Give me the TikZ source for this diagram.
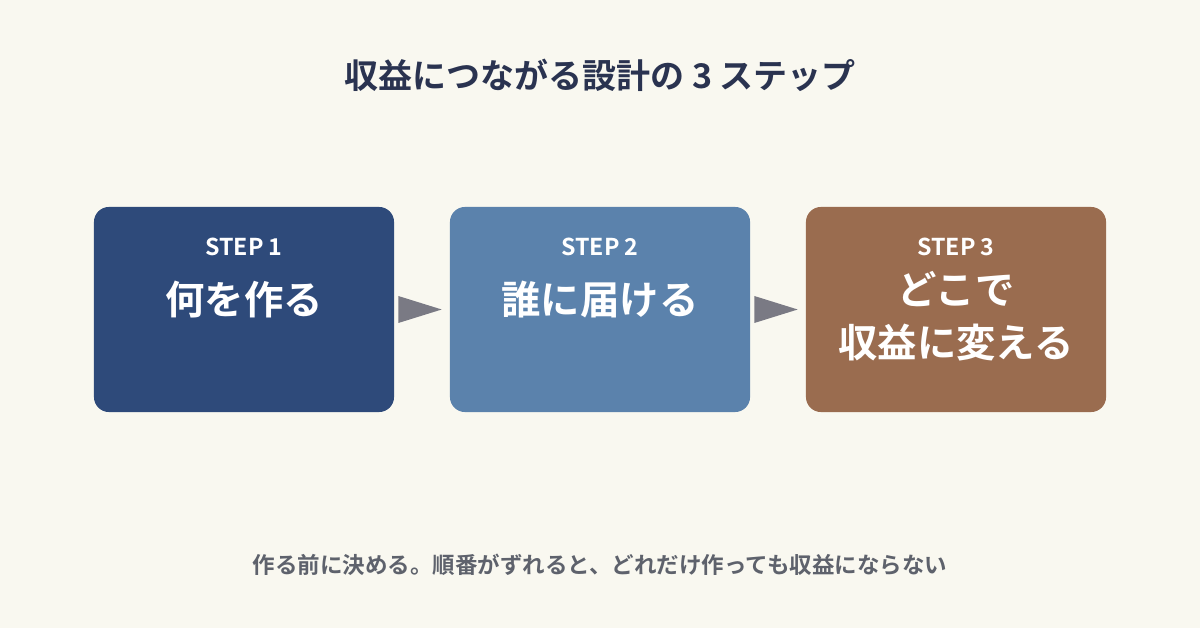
\documentclass[tikz,border=0pt]{standalone}
\usepackage{fontspec}
\setmainfont{Noto Sans CJK JP}[BoldFont={Noto Sans CJK JP Bold}]
\usetikzlibrary{positioning}
\definecolor{bgcream}{HTML}{F9F8F0}
\definecolor{titleink}{HTML}{2A3350}
\definecolor{footink}{HTML}{5E626C}
\definecolor{arrowgray}{HTML}{7A7A84}
\definecolor{stepnavy}{HTML}{2E4A7A}
\definecolor{stepblue}{HTML}{5B82AC}
\definecolor{stepbrown}{HTML}{9A6C4F}
\tikzset{
	stepbox/.style={rounded corners=0.375cm, minimum width=7.5cm, minimum height=5.125cm, inner sep=0pt},
	steplabel/.style={text=white, font=\bfseries\fontsize{16.5}{19}\selectfont},
	steptext/.style={text=white, align=center, font=\bfseries\fontsize{28}{37.7}\selectfont}
}
\begin{document}
\begin{tikzpicture}[x=0.025cm, y=-0.025cm]
		\fill[bgcream] (0,0) rectangle (1200,628);
		\useasboundingbox (0,0) rectangle (1200,628);
		\node[text=titleink, font=\bfseries\fontsize{24.2}{29}\selectfont] (title) at (600,75) {収益につながる設計の 3 ステップ};
		\foreach \i/\cx/\col/\txt/\dy in {1/244/stepnavy/{何を作る}/93, 2/600/stepblue/{誰に届ける}/93, 3/956/stepbrown/{どこで\\収益に変える}/109.5}{
				\node[stepbox, fill=\col] (b\i) at (\cx,309.5) {};
				\node[steplabel] (s\i) at ([shift={(0,40)}]b\i.north) {STEP \i};
				\node[steptext] (t\i) at ([shift={(0,\dy)}]b\i.north) {\txt};
			};
		\foreach \a/\b in {1/2, 2/3}{
				\fill[arrowgray] ([shift={(4,-13.5)}]b\a.east) -- ([shift={(-8,0)}]b\b.west) -- ([shift={(4,13.5)}]b\a.east) -- cycle;
			};
		\node[text=footink, font=\bfseries\fontsize{16}{20}\selectfont] (note) at (600,565) {作る前に決める。順番がずれると、どれだけ作っても収益にならない};
	\end{tikzpicture}
\end{document}
